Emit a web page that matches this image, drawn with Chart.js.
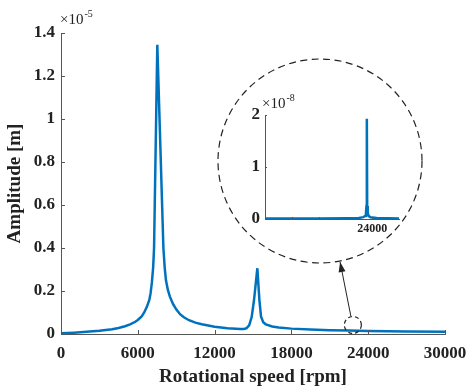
<!DOCTYPE html>
<html>
<head>
<meta charset="utf-8">
<script src="https://cdn.jsdelivr.net/npm/chart.js@4.4.1/dist/chart.umd.min.js"></script>
<style>
  html, body { margin: 0; padding: 0; background: #fff; }
  #wrap { position: relative; width: 470px; height: 388px; }
  #main { position: absolute; left: 0; top: 0; }
  #inset { position: absolute; left: 225px; top: 90px; }
</style>
</head>
<body>
<div id="wrap">
  <canvas id="main" width="470" height="388"></canvas>
  <canvas id="inset" width="185" height="150"></canvas>
</div>
<script>
// main response curve, amplitude in units of 1e-5 m
const speed = [0, 1000, 2000, 3000, 4000, 4500, 5000, 5400, 5800, 6000, 6300, 6500, 6700, 6900, 7000, 7100, 7200, 7270, 7525,
  8000, 8100, 8200, 8350, 8500, 8750, 9000, 9300, 9600, 10000, 10500, 11000, 12000, 13000, 14000, 14300, 14500, 14700, 14900,
  15080, 15340, 15500, 15630, 15800, 16000, 16500, 17000, 18000, 19500, 21000, 22500, 24000, 27000, 30000]
const amplitude = [0.003, 0.006, 0.010, 0.015, 0.022, 0.028, 0.036, 0.045, 0.057, 0.065, 0.082, 0.100, 0.125, 0.158, 0.190, 0.240, 0.310, 0.400, 1.345,
  0.400, 0.310, 0.250, 0.205, 0.175, 0.140, 0.115, 0.092, 0.078, 0.064, 0.053, 0.045, 0.034, 0.027, 0.023, 0.023, 0.027, 0.040, 0.080,
  0.158, 0.306, 0.158, 0.080, 0.055, 0.045, 0.035, 0.030, 0.025, 0.021, 0.018, 0.016, 0.014, 0.012, 0.011]

// zoomed inset, amplitude in units of 1e-8 m
const insetSpeed = [0, 6000, 12000, 18000, 21000, 22000, 22400, 22600, 22720, 22800, 22880, 23000, 23200, 23600, 25000, 30000]
const insetAmp = [0.01, 0.01, 0.012, 0.015, 0.02, 0.035, 0.06, 0.12, 0.25, 1.93, 0.25, 0.12, 0.06, 0.035, 0.02, 0.01]

const xTicks = [0, 6000, 12000, 18000, 24000, 30000]
const yTicks = [0, 0.2, 0.4, 0.6, 0.8, 1, 1.2, 1.4]

// spot that the inset zooms into
const focusSpeed = 22800
const focusAmp = 0.042

const blue = 'rgb(0,114,189)'
const axisColor = '#555'
const serif = '"Liberation Serif", "Times New Roman", serif'

// MATLAB style ticks pointing into the plot
const innerTicks = {
  id: 'innerTicks',
  afterDraw(chart) {
    const ctx = chart.ctx
    const { x, y } = chart.scales
    const len = chart.options.plugins.innerTicks.len
    ctx.save()
    ctx.strokeStyle = axisColor
    ctx.lineWidth = 1
    ctx.beginPath()
    x.ticks.forEach(t => {
      const px = Math.round(x.getPixelForValue(t.value)) + 0.5
      ctx.moveTo(px, y.bottom)
      ctx.lineTo(px, y.bottom - len)
    })
    y.ticks.forEach(t => {
      const py = Math.round(y.getPixelForValue(t.value)) + 0.5
      ctx.moveTo(x.left, py)
      ctx.lineTo(x.left + len, py)
    })
    ctx.stroke()
    ctx.restore()
  }
}

function drawExponent(ctx, x0, base, label, sup, size) {
  ctx.save()
  ctx.fillStyle = '#222'
  ctx.textBaseline = 'alphabetic'
  ctx.textAlign = 'left'
  ctx.font = size + 'px ' + serif
  ctx.fillText(label, x0, base)
  const w = ctx.measureText(label).width
  ctx.font = Math.round(size * 0.68) + 'px ' + serif
  ctx.fillText(sup, x0 + w + 1, base - size * 0.45)
  ctx.restore()
}

const decorations = {
  id: 'decorations',
  afterDraw(chart) {
    const ctx = chart.ctx
    const { x, y } = chart.scales
    drawExponent(ctx, chart.chartArea.left - 1, 24, '\u00d710', '-5', 15)

    // big dashed circle around the inset
    const bx = 320, by = 161, br = 102
    ctx.save()
    ctx.strokeStyle = '#222'
    ctx.lineWidth = 1.2
    ctx.setLineDash([7, 4.5])
    ctx.beginPath()
    ctx.arc(bx, by, br, 0, Math.PI * 2)
    ctx.stroke()

    // small dashed circle on the main curve
    const cx = x.getPixelForValue(focusSpeed)
    const cy = y.getPixelForValue(focusAmp)
    ctx.setLineDash([4, 3])
    ctx.beginPath()
    ctx.arc(cx, cy, 8.5, 0, Math.PI * 2)
    ctx.stroke()

    // arrow from small circle to big circle
    const sx = cx - 2, sy = cy - 9
    const dx = sx - bx, dy = sy - by
    const d = Math.hypot(dx, dy)
    const tx = bx + dx / d * (br + 1), ty = by + dy / d * (br + 1)
    ctx.setLineDash([])
    ctx.lineWidth = 1
    ctx.beginPath()
    ctx.moveTo(sx, sy)
    ctx.lineTo(tx, ty)
    ctx.stroke()
    const ang = Math.atan2(ty - sy, tx - sx)
    ctx.fillStyle = '#222'
    ctx.beginPath()
    ctx.moveTo(tx, ty)
    ctx.lineTo(tx - 10 * Math.cos(ang) + 3.5 * Math.sin(ang), ty - 10 * Math.sin(ang) - 3.5 * Math.cos(ang))
    ctx.lineTo(tx - 10 * Math.cos(ang) - 3.5 * Math.sin(ang), ty - 10 * Math.sin(ang) + 3.5 * Math.cos(ang))
    ctx.closePath()
    ctx.fill()
    ctx.restore()
  }
}

new Chart(document.getElementById('main'), {
  type: 'line',
  data: {
    datasets: [{
      data: speed.map((s, i) => ({ x: s, y: amplitude[i] })),
      borderColor: blue,
      borderWidth: 2.5,
      pointRadius: 0,
      tension: 0,
      clip: false
    }]
  },
  options: {
    responsive: false,
    animation: false,
    layout: { padding: { left: 0, top: 33, right: 25, bottom: 0 } },
    plugins: {
      legend: { display: false },
      tooltip: { enabled: false },
      innerTicks: { len: 4 }
    },
    scales: {
      x: {
        type: 'linear',
        min: 0,
        max: 30000,
        afterBuildTicks: s => { s.ticks = xTicks.map(v => ({ value: v })) },
        afterFit: s => { s.height = 54; s.paddingLeft = 0; s.paddingRight = 0 },
        border: { display: true, color: axisColor, width: 1 },
        grid: { display: false, drawTicks: false },
        ticks: {
          color: '#222',
          padding: 9,
          maxRotation: 0,
          font: { family: serif, size: 17, weight: 'bold' },
          callback: v => String(v)
        },
        title: {
          display: true,
          text: 'Rotational speed [rpm]',
          color: '#222',
          font: { family: serif, size: 19, weight: 'bold' },
          padding: { top: 2, bottom: 0 }
        }
      },
      y: {
        min: 0,
        max: 1.4,
        afterBuildTicks: s => { s.ticks = yTicks.map(v => ({ value: v })) },
        afterFit: s => { s.width = 61 },
        border: { display: true, color: axisColor, width: 1 },
        grid: { display: false, drawTicks: false },
        ticks: {
          color: '#222',
          padding: 6,
          font: { family: serif, size: 17, weight: 'bold' },
          callback: v => String(v)
        },
        title: {
          display: true,
          text: 'Amplitude [m]',
          color: '#222',
          font: { family: serif, size: 19, weight: 'bold' },
          padding: { top: 4, bottom: 0 }
        }
      }
    }
  },
  plugins: [innerTicks, decorations]
})

const insetLabel = {
  id: 'insetLabel',
  afterDraw(chart) {
    drawExponent(chart.ctx, chart.chartArea.left - 3, 18, '\u00d710', '-8', 15)
  }
}

new Chart(document.getElementById('inset'), {
  type: 'line',
  data: {
    datasets: [{
      data: insetSpeed.map((s, i) => ({ x: s, y: insetAmp[i] })),
      borderColor: blue,
      borderWidth: 2.5,
      pointRadius: 0,
      tension: 0,
      clip: false
    }]
  },
  options: {
    responsive: false,
    animation: false,
    layout: { padding: { left: 0, top: 25, right: 11, bottom: 0 } },
    plugins: {
      legend: { display: false },
      tooltip: { enabled: false },
      innerTicks: { len: 2 }
    },
    scales: {
      x: {
        type: 'linear',
        min: 0,
        max: 30000,
        afterBuildTicks: s => { s.ticks = [6000, 12000, 18000, 24000].map(v => ({ value: v })) },
        afterFit: s => { s.height = 21; s.paddingLeft = 0; s.paddingRight = 0 },
        border: { display: true, color: axisColor, width: 1 },
        grid: { display: false, drawTicks: false },
        ticks: {
          color: '#222',
          padding: 3,
          maxRotation: 0,
          autoSkip: false,
          font: { family: serif, size: 12, weight: 'bold' },
          callback: v => (v === 24000 ? '24000' : '')
        }
      },
      y: {
        min: 0,
        max: 2,
        afterBuildTicks: s => { s.ticks = [0, 1, 2].map(v => ({ value: v })) },
        afterFit: s => { s.width = 40 },
        border: { display: true, color: axisColor, width: 1 },
        grid: { display: false, drawTicks: false },
        ticks: {
          color: '#222',
          padding: 5,
          font: { family: serif, size: 17, weight: 'bold' },
          callback: v => String(v)
        }
      }
    }
  },
  plugins: [innerTicks, insetLabel]
})
</script>
</body>
</html>
